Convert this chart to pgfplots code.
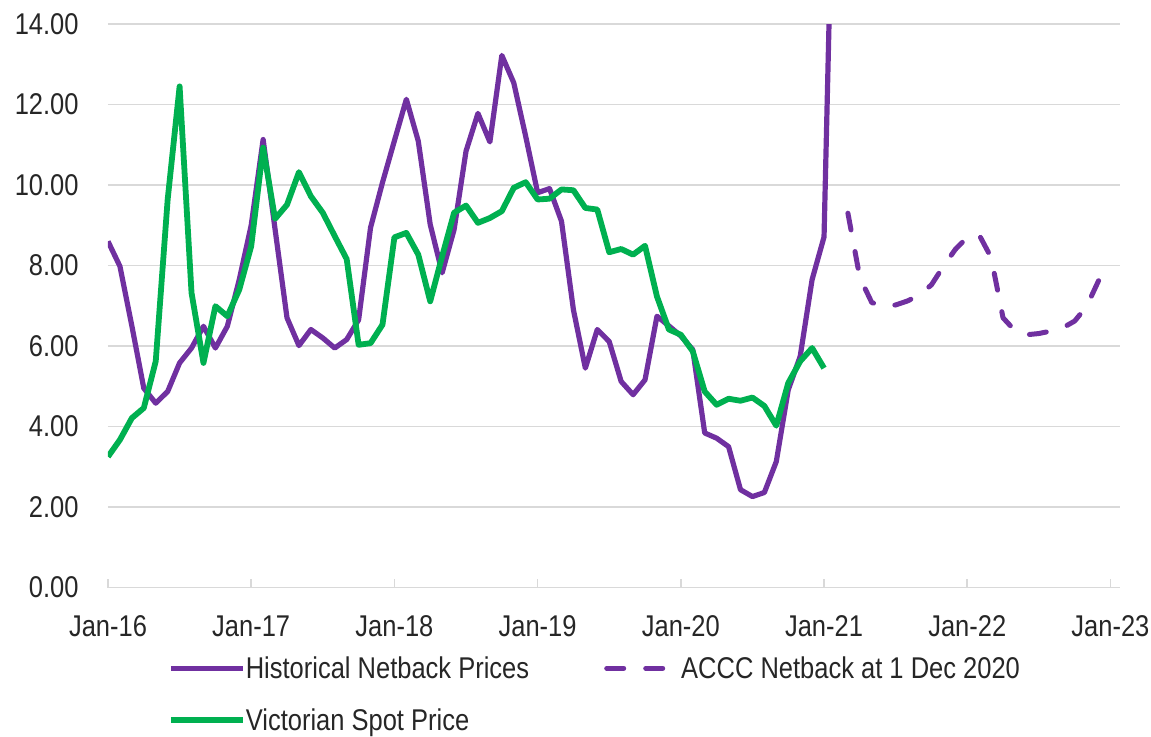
\documentclass[border=0pt]{standalone}
\usepackage{fontspec}
\setmainfont{Liberation Sans}[FakeStretch=0.85]
\usepackage{pgfplots}
\usepackage{pgfplotstable}
\pgfplotsset{compat=1.18}

\definecolor{netback}{HTML}{7030A0}
\definecolor{spot}{HTML}{00B050}
\definecolor{gridgray}{HTML}{D9D9D9}
\definecolor{txt}{HTML}{262626}

% months counted from Jan-16 = 0
\pgfplotstableread{
m  v
0  8.60
1  7.98
2  6.50
3  4.95
4  4.58
5  4.87
6  5.58
7  5.95
8  6.49
9  5.95
10 6.49
11 7.65
12 9.00
13 11.13
14 8.90
15 6.70
16 6.01
17 6.41
18 6.20
19 5.95
20 6.16
21 6.65
22 8.94
23 10.06
24 11.10
25 12.13
26 11.09
27 9.02
28 7.82
29 8.89
30 10.84
31 11.78
32 11.07
33 13.22
34 12.54
35 11.21
36 9.81
37 9.91
38 9.10
39 6.90
40 5.45
41 6.41
42 6.11
43 5.12
44 4.79
45 5.16
46 6.74
47 6.50
48 6.25
49 5.91
50 3.84
51 3.71
52 3.50
53 2.43
54 2.26
55 2.36
56 3.13
57 4.91
58 5.74
59 7.65
60 8.71
61 21.40
}\historical

\pgfplotstableread{
m  v
62 9.30
63 7.70
64 7.08
65 6.98
66 7.02
67 7.12
68 7.27
69 7.52
70 7.98
71 8.40
72 8.70
73 8.76
74 8.20
75 6.70
76 6.38
77 6.28
78 6.31
79 6.37
80 6.45
81 6.62
82 6.98
83 7.62
84 7.85
}\accc

\pgfplotstableread{
m  v
0  3.25
1  3.67
2  4.21
3  4.46
4  5.62
5  9.64
6  12.45
7  7.32
8  5.58
9  6.99
10 6.74
11 7.40
12 8.48
13 10.93
14 9.16
15 9.51
16 10.32
17 9.72
18 9.31
19 8.73
20 8.16
21 6.03
22 6.07
23 6.53
24 8.70
25 8.81
26 8.27
27 7.11
28 8.23
29 9.31
30 9.49
31 9.06
32 9.18
33 9.35
34 9.93
35 10.07
36 9.64
37 9.66
38 9.89
39 9.87
40 9.43
41 9.39
42 8.33
43 8.41
44 8.27
45 8.49
46 7.23
47 6.41
48 6.28
49 5.87
50 4.87
51 4.54
52 4.69
53 4.64
54 4.72
55 4.51
56 4.02
57 5.08
58 5.62
59 5.95
60 5.45
}\spot

\begin{document}
\begin{tikzpicture}
\begin{axis}[
    width=506pt, height=281.75pt, scale only axis,
    xmin=0, xmax=84.8, ymin=0, ymax=14,
    xtick={0,12,...,84},
    xticklabels={Jan-16,Jan-17,Jan-18,Jan-19,Jan-20,Jan-21,Jan-22,Jan-23},
    ytick={0,2,...,14},
    yticklabels={0.00,2.00,4.00,6.00,8.00,10.00,12.00,14.00},
    axis x line*=bottom, axis y line*=left,
    x axis line style={draw=gridgray, line width=0.75pt},
    y axis line style={draw=none},
    tick align=inside, major tick length=4.5pt,
    xtick style={draw=gridgray, line width=0.75pt},
    ytick style={draw=none},
    ymajorgrids, grid style={draw=gridgray, line width=0.75pt},
    tick label style={font=\fontsize{15}{18}\selectfont, text=txt},
    x tick label style={anchor=north, inner sep=0pt, yshift=-14pt},
    y tick label style={anchor=east, inner sep=0pt, xshift=-14.5pt},
    legend style={at={(0,0)}, anchor=north west, xshift=30pt, yshift=-33.1pt,
        draw=none, fill=none, inner sep=0pt, outer sep=0pt,
        row sep=11.5pt, font=\fontsize{15}{18}\selectfont, text=txt,
        nodes={inner sep=0pt, text height=12.5pt, text depth=2pt},
        /tikz/every odd column/.append style={column sep=0pt},
        /tikz/every even column/.append style={column sep=37.5pt}},
    legend columns=2, legend cell align=left,
    legend image code/.code={\draw[#1] (0pt,0pt) -- (36pt,0pt);},
    line join=round,
]
\addplot[netback, line width=2.6pt] table[x=m, y=v] {\historical};
\addlegendentry{Historical Netback Prices}
\addplot[netback, line width=2.5pt, line cap=round, dash pattern=on 8.5pt off 11pt]
    table[x=m, y=v] {\accc};
\addlegendentry{ACCC Netback at 1 Dec 2020}
\addplot[spot, line width=2.9pt] table[x=m, y=v] {\spot};
\addlegendentry{Victorian Spot Price}
\end{axis}
\pgfresetboundingbox
\path (-54pt,-74.25pt) rectangle (521.5pt,293.75pt);
\end{tikzpicture}
\end{document}
